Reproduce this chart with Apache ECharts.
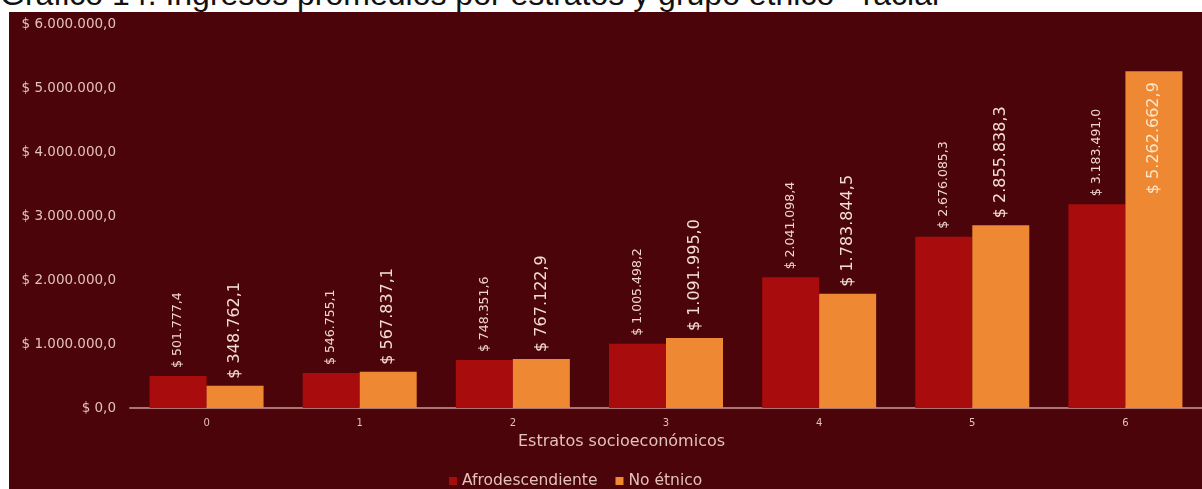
<!DOCTYPE html>
<html>
<head>
<meta charset="utf-8">
<script src="https://cdn.jsdelivr.net/npm/echarts@6/dist/echarts.min.js"></script>
<style>
  html, body { margin: 0; padding: 0; background: #ffffff; width: 1202px; height: 489px; overflow: hidden; }
  #title { position: absolute; left: 0px; top: -24px; font-family: "Liberation Sans", Arial, sans-serif; font-size: 32px; color: #111; white-space: nowrap; }
  #chart { position: absolute; left: 9px; top: 12px; width: 1193px; height: 477px; background: #4b050a; }
</style>
</head>
<body>
<div id="title">Gráfico 14. Ingresos promedios por estratos y grupo étnico - racial</div>
<div id="chart"></div>
<script>
const categories = ['0', '1', '2', '3', '4', '5', '6'];
const afroValues = [501777.4, 546755.1, 748351.6, 1005498.2, 2041098.4, 2676085.3, 3183491.0];
const noEtnicoValues = [348762.1, 567837.1, 767122.9, 1091995.0, 1783844.5, 2855838.3, 5262662.9];
const seriesNames = ['Afrodescendiente', 'No étnico'];
const axisTitle = 'Estratos socioeconómicos';

function fmt(v) {
  const neg = v < 0; v = Math.abs(v);
  const fixed = v.toFixed(1);
  let [ip, dp] = fixed.split('.');
  ip = ip.replace(/\B(?=(\d{3})+(?!\d))/g, '.');
  return '$ ' + (neg ? '-' : '') + ip + ',' + dp;
}

const chart = echarts.init(document.getElementById('chart'));
const txt = '#e3c2bc';
chart.setOption({
  backgroundColor: '#4b050a',
  animation: false,
  textStyle: { fontFamily: 'DejaVu Sans' },
  legend: {
    data: seriesNames,
    left: 435, top: 456,
    icon: 'rect', itemWidth: 8, itemHeight: 8, itemGap: 18,
    textStyle: { color: txt, fontSize: 15.5, fontFamily: 'DejaVu Sans' }
  },
  graphic: [{
    type: 'text', left: 509, top: 422,
    style: { text: axisTitle, fill: txt, font: '16px "DejaVu Sans"' }
  }],
  grid: { left: 121, right: -8, top: 12, bottom: 81, containLabel: false },
  xAxis: {
    type: 'category', data: categories,
    axisLine: { lineStyle: { color: '#b07373', width: 2 } },
    axisTick: { show: false },
    axisLabel: { color: txt, fontSize: 10, margin: 10 }
  },
  yAxis: {
    type: 'value', min: 0, max: 6000000, interval: 1000000,
    axisLine: { show: false }, axisTick: { show: false },
    splitLine: { show: false },
    axisLabel: { color: txt, fontSize: 13.5, margin: 14, formatter: fmt }
  },
  series: [
    {
      name: seriesNames[0], type: 'bar', data: afroValues,
      barWidth: 57, barGap: '0%',
      itemStyle: { color: '#a90c0c' },
      label: {
        show: true, position: 'top', rotate: 90, distance: 8,
        align: 'left', verticalAlign: 'middle',
        color: '#f0d6d0', fontSize: 12.5, fontFamily: 'DejaVu Sans',
        formatter: p => fmt(p.value)
      }
    },
    {
      name: seriesNames[1], type: 'bar', data: noEtnicoValues.map((v, i) => {
        if (i === 6) {
          return { value: v, label: { position: 'insideTop', align: 'right', distance: 11, color: '#fbe6c8' } };
        }
        return v;
      }),
      barWidth: 57,
      itemStyle: { color: '#ee8833' },
      label: {
        show: true, position: 'top', rotate: 90, distance: 7,
        align: 'left', verticalAlign: 'middle',
        color: '#f3ddd6', fontSize: 16, fontFamily: 'DejaVu Sans',
        formatter: p => fmt(p.value)
      }
    }
  ]
});
</script>
</body>
</html>
